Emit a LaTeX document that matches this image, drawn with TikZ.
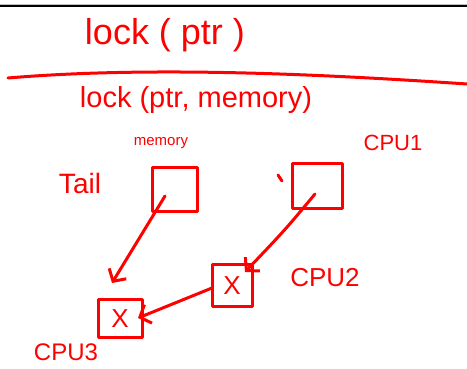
\documentclass[tikz,border=0pt]{standalone}
\usepackage{fontspec}
\setmainfont{Liberation Sans}
\usetikzlibrary{arrows.meta}
\tikzset{
	ink/.style={draw=red, line width=3pt, line cap=round, line join=round},
	pointer/.style={ink, -{Straight Barb[length=9pt,width=20pt]}},
	word/.style={text=red, inner sep=0pt, font=\fontsize{#1}{#1}\selectfont},
	cell/.style={ink, inner sep=0pt, text=red, font=\fontsize{26}{26}\selectfont}
}
\begin{document}
\begin{tikzpicture}[x=1pt, y=-1pt]
		\useasboundingbox (0,0) rectangle (467,369);
		\draw[gray!50, line width=1pt] (0,4.2) -- (467,4.2);
		\draw[black, line width=2.4pt] (0,6.2) -- (467,6.2);
		\node[word=36] (plain) at (165,35) {lock ( ptr )};
		\draw[ink] (8,78) .. controls (150,66) and (320,74) .. (467,84);
		\node[word=29] (withmem) at (196,100) {lock (ptr, memory)};
		% queue
		\node[cell, minimum width=45pt, minimum height=44pt] (mem) at (175,190) {};
		\node[cell, minimum width=50pt, minimum height=45pt] (cpuA) at (317,186) {};
		\node[cell, minimum width=40pt, minimum height=42pt] (cpuB) at (232,286) {X};
		\node[cell, minimum width=44pt, minimum height=38pt] (cpuC) at (120,319) {X};
		\node[word=15] (memname) at (161,143) {memory};
		\node[word=28] (tail) at (80,183) {Tail};
		\node[word=22] (nameA) at (393,143) {CPU1};
		\node[word=26] (nameB) at (325,278) {CPU2};
		\node[word=24] (nameC) at (66,352) {CPU3};
		\draw[ink] (278,175) -- (282,181);
		\coordinate (memptr) at (165,196);
		\coordinate (memtip) at (112,283);
		\coordinate (aptr) at (315,194);
		\coordinate (atip) at (245,272);
		\coordinate (bptr) at (212,288);
		\coordinate (btip) at (138,318);
		\draw[pointer] (memptr) -- (memtip);
		\draw[pointer] (aptr) .. controls (285,230) .. (atip);
		\draw[pointer] (bptr) -- (btip);
\end{tikzpicture}
\end{document}
